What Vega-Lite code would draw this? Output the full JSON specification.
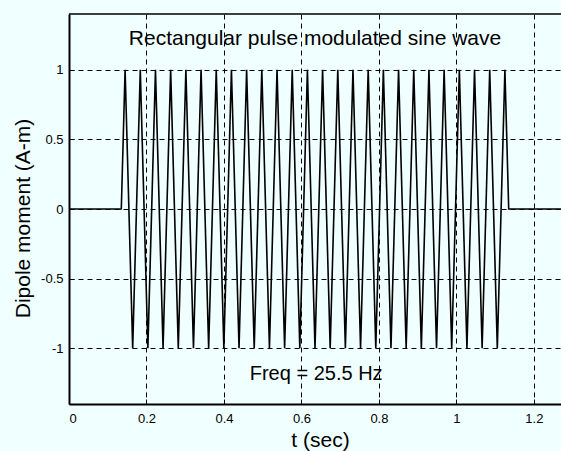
{
  "$schema": "https://vega.github.io/schema/vega-lite/v6.json",
  "width": 492,
  "height": 390,
  "autosize": {"type": "none"},
  "padding": {"left": 69, "top": 14, "right": 0, "bottom": 47},
  "background": "#f0ffff",
  "config": {"view": {"stroke": null}, "font": "Liberation Sans"},
  "layer": [
    {
      "data": {"values": [
        {"t": 0, "m": 0}, {"t": 0.135, "m": 0},
        {"t": 0.1448, "m": 1}, {"t": 0.1644, "m": -1}, {"t": 0.1840, "m": 1}, {"t": 0.2036, "m": -1},
        {"t": 0.2232, "m": 1}, {"t": 0.2428, "m": -1}, {"t": 0.2624, "m": 1}, {"t": 0.2821, "m": -1},
        {"t": 0.3017, "m": 1}, {"t": 0.3213, "m": -1}, {"t": 0.3409, "m": 1}, {"t": 0.3605, "m": -1},
        {"t": 0.3801, "m": 1}, {"t": 0.3997, "m": -1}, {"t": 0.4193, "m": 1}, {"t": 0.4389, "m": -1},
        {"t": 0.4585, "m": 1}, {"t": 0.4781, "m": -1}, {"t": 0.4977, "m": 1}, {"t": 0.5174, "m": -1},
        {"t": 0.5370, "m": 1}, {"t": 0.5566, "m": -1}, {"t": 0.5762, "m": 1}, {"t": 0.5958, "m": -1},
        {"t": 0.6154, "m": 1}, {"t": 0.6350, "m": -1}, {"t": 0.6546, "m": 1}, {"t": 0.6742, "m": -1},
        {"t": 0.6938, "m": 1}, {"t": 0.7134, "m": -1}, {"t": 0.7330, "m": 1}, {"t": 0.7526, "m": -1},
        {"t": 0.7723, "m": 1}, {"t": 0.7919, "m": -1}, {"t": 0.8115, "m": 1}, {"t": 0.8311, "m": -1},
        {"t": 0.8507, "m": 1}, {"t": 0.8703, "m": -1}, {"t": 0.8899, "m": 1}, {"t": 0.9095, "m": -1},
        {"t": 0.9291, "m": 1}, {"t": 0.9487, "m": -1}, {"t": 0.9683, "m": 1}, {"t": 0.9879, "m": -1},
        {"t": 1.0076, "m": 1}, {"t": 1.0272, "m": -1}, {"t": 1.0468, "m": 1}, {"t": 1.0664, "m": -1},
        {"t": 1.0860, "m": 1}, {"t": 1.1056, "m": -1}, {"t": 1.1252, "m": 1},
        {"t": 1.135, "m": 0}, {"t": 1.27, "m": 0}
      ]},
      "mark": {"type": "line", "color": "black", "strokeWidth": 1.6, "clip": true},
      "encoding": {
        "x": {
          "field": "t", "type": "quantitative",
          "scale": {"domain": [0, 1.27], "nice": false, "zero": false},
          "axis": {
            "values": [0, 0.2, 0.4, 0.6, 0.8, 1, 1.2],
            "format": "~g",
            "grid": true, "gridColor": "black", "gridDash": [5, 4], "gridWidth": 1, "gridOpacity": 1,
            "domain": true, "domainColor": "black", "domainWidth": 2,
            "ticks": true, "tickSize": -5, "tickColor": "black", "tickWidth": 1,
            "labelFont": "Liberation Sans", "labelFontSize": 13, "labelColor": "black", "labelPadding": 13,
            "title": "t (sec)", "titleFont": "Liberation Sans", "titleFontSize": 21, "titleFontWeight": "normal",
            "titleColor": "black", "titleX": 251, "titleY": 36, "titleBaseline": "middle", "titleAlign": "center"
          }
        },
        "y": {
          "field": "m", "type": "quantitative",
          "scale": {"domain": [-1.4, 1.4], "nice": false, "zero": false},
          "axis": {
            "values": [-1, -0.5, 0, 0.5, 1],
            "labelExpr": "datum.value < 0 ? '-' + format(-datum.value, '~g') : format(datum.value, '~g')",
            "grid": true, "gridColor": "black", "gridDash": [5, 4], "gridWidth": 1, "gridOpacity": 1,
            "domain": true, "domainColor": "black", "domainWidth": 2,
            "ticks": true, "tickSize": -5, "tickColor": "black", "tickWidth": 1,
            "labelFont": "Liberation Sans", "labelFontSize": 13, "labelColor": "black", "labelPadding": 11,
            "title": "Dipole moment (A-m)", "titleFont": "Liberation Sans", "titleFontSize": 21, "titleFontWeight": "normal",
            "titleColor": "black", "titleX": -46, "titleY": 204, "titleBaseline": "middle", "titleAlign": "center", "titleAngle": -90
          }
        }
      }
    },
    {
      "data": {"values": [{}]},
      "mark": {"type": "rule", "color": "black", "strokeWidth": 1.5},
      "encoding": {"y": {"datum": 1.4}}
    },
    {
      "data": {"values": [
        {"t": 0.635, "m": 1.22, "label": "Rectangular pulse modulated sine wave"}
      ]},
      "mark": {"type": "text", "font": "Liberation Sans", "fontSize": 21, "color": "black", "align": "center", "baseline": "middle"},
      "encoding": {
        "x": {"field": "t", "type": "quantitative"},
        "y": {"field": "m", "type": "quantitative"},
        "text": {"field": "label"}
      }
    },
    {
      "data": {"values": [
        {"t": 0.638, "m": -1.185, "label": "Freq = 25.5 Hz"}
      ]},
      "mark": {"type": "text", "font": "Liberation Sans", "fontSize": 20, "color": "black", "align": "center", "baseline": "middle"},
      "encoding": {
        "x": {"field": "t", "type": "quantitative"},
        "y": {"field": "m", "type": "quantitative"},
        "text": {"field": "label"}
      }
    }
  ]
}
